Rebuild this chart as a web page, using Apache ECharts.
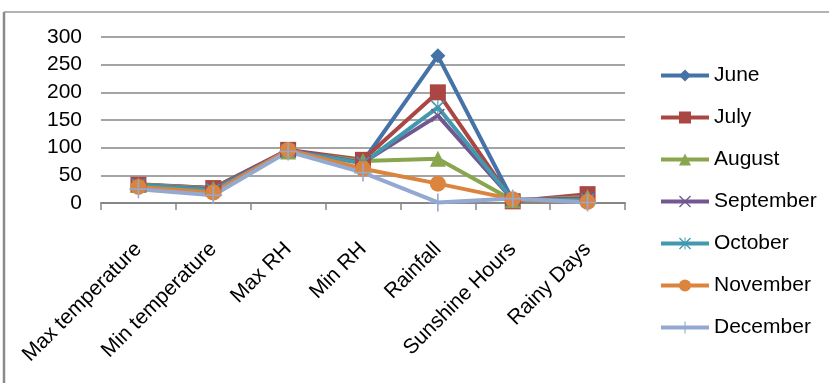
<!DOCTYPE html>
<html>
<head>
<meta charset="utf-8">
<script src="https://cdn.jsdelivr.net/npm/echarts@6/dist/echarts.min.js"></script>
<style>
  html, body { margin: 0; padding: 0; background: #fff; }
  #chart { width: 829px; height: 383px; }
</style>
</head>
<body>
<div id="chart"></div>
<script>
// Monthly weather parameters, June to December
const categories = ['Max temperature', 'Min temperature', 'Max RH', 'Min RH', 'Rainfall', 'Sunshine Hours', 'Rainy Days'];
const yTicks = [0, 50, 100, 150, 200, 250, 300];

const june      = [34, 27, 95, 75, 266, 5, 10];
const july      = [33, 27, 96, 78, 200, 3, 16];
const august    = [33, 26, 93, 76, 80, 5, 11];
const september = [32, 25, 96, 73, 158, 6, 8];
const october   = [32, 23, 94, 72, 173, 6, 5];
const november  = [29, 19, 96, 62, 35, 7, 2];
const december  = [25, 14, 93, 55, 1, 8, 1];

// Marker shapes
const crossX = 'path://M0,0.8 L0.8,0 L10,9.2 L9.2,10 Z M9.2,0 L10,0.8 L0.8,10 L0,9.2 Z';
const asterisk = crossX + ' M4.6,0 L5.4,0 L5.4,10 L4.6,10 Z';
const plus = 'path://M4.55,0 L5.45,0 L5.45,4.55 L10,4.55 L10,5.45 L5.45,5.45 L5.45,10 L4.55,10 L4.55,5.45 L0,5.45 L0,4.55 L4.55,4.55 Z';

const FONT = 'Liberation Sans';

function line(name, data, color, symbol, size) {
  return {
    name: name,
    type: 'line',
    data: data,
    color: color,
    symbol: symbol,
    symbolSize: size,
    showAllSymbol: true,
    lineStyle: { width: 4, color: color },
    itemStyle: { color: color },
    emphasis: { disabled: true },
    animation: false
  };
}

const chart = echarts.init(document.getElementById('chart'), null, { renderer: 'canvas' });
chart.setOption({
  backgroundColor: '#ffffff',
  animation: false,
  textStyle: { fontFamily: FONT },
  grid: { left: 101, right: 204, top: 37, bottom: 180, containLabel: false },
  graphic: [
    { type: 'line', shape: { x1: 4, y1: 12, x2: 4, y2: 383 }, style: { stroke: '#8a8a8a', lineWidth: 2.5 } },
    { type: 'line', shape: { x1: 4, y1: 12, x2: 829, y2: 12 }, style: { stroke: '#9a9a9a', lineWidth: 1.5 } }
  ],
  legend: {
    orient: 'vertical',
    left: 654,
    top: 60,
    itemWidth: 48,
    itemHeight: 15,
    itemGap: 21,
    selectedMode: false,
    lineStyle: { width: 4 },
    textStyle: { fontFamily: FONT, fontSize: 21, color: '#000' },
    data: ['June', 'July', 'August', 'September', 'October', 'November', 'December']
  },
  xAxis: {
    type: 'category',
    data: categories,
    boundaryGap: true,
    axisLine: { lineStyle: { color: '#868686', width: 2 } },
    axisTick: { show: true, length: 7, lineStyle: { color: '#868686', width: 1.5 } },
    axisLabel: { rotate: 45, margin: 43, fontFamily: FONT, fontSize: 21, color: '#000', interval: 0 },
    splitLine: { show: false }
  },
  yAxis: {
    type: 'value',
    min: yTicks[0],
    max: yTicks[yTicks.length - 1],
    interval: 50,
    axisLine: { show: false },
    axisTick: { show: false },
    axisLabel: { margin: 19, fontFamily: FONT, fontSize: 21, color: '#000' },
    splitLine: { lineStyle: { color: '#868686', width: 1.5 } }
  },
  series: [
    line('June', june, '#4572A7', 'diamond', 15),
    line('July', july, '#AA4643', 'rect', 16),
    line('August', august, '#89A54E', 'triangle', 16),
    line('September', september, '#71588F', crossX, 14),
    line('October', october, '#4198AF', asterisk, 14),
    line('November', november, '#DB843D', 'circle', 16),
    line('December', december, '#93A9CF', plus, 18)
  ]
});
</script>
</body>
</html>
